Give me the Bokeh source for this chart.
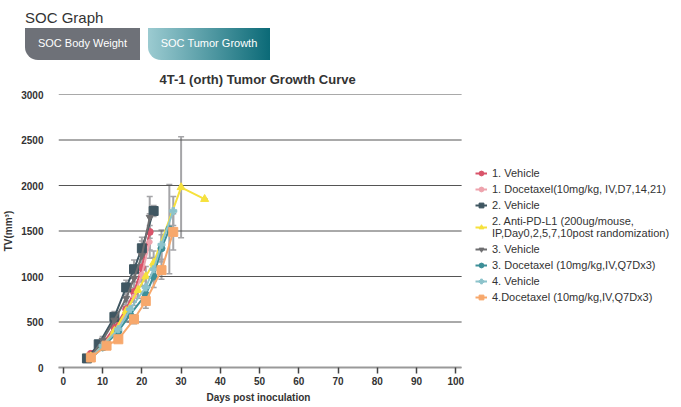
from bokeh.plotting import figure
from bokeh.models import (Range1d, Legend, LegendItem, Whisker, TeeHead, ColumnDataSource,
                          Div, FixedTicker, Title)
from bokeh.layouts import column
from bokeh.embed import file_html
from bokeh.resources import INLINE

FONT = "Liberation Sans"

# ---- data ----
labels = [
    "1. Vehicle",
    "1. Docetaxel(10mg/kg, IV,D7,14,21)",
    "2. Vehicle",
    "2. Anti-PD-L1 (200ug/mouse,\nIP,Day0,2,5,7,10post randomization)",
    "3. Vehicle",
    "3. Docetaxel (10mg/kg,IV,Q7Dx3)",
    "4. Vehicle",
    "4.Docetaxel (10mg/kg,IV,Q7Dx3)",
]

days_v1 = [7, 10, 13, 16, 18, 20, 22]
tv_v1 = [150, 260, 440, 640, 830, 1100, 1490]
err_v1 = [20, 40, 60, 90, 110, 150, 200]

days_d1 = [7, 10, 13, 16, 18, 20, 22]
tv_d1 = [130, 240, 400, 590, 780, 1020, 1380]
err_d1 = [15, 30, 50, 80, 100, 130, 180]

days_v2 = [6, 9, 13, 16, 18, 20, 23]
tv_v2 = [100, 255, 556, 880, 1080, 1310, 1720]
err_v2 = [10, 30, 60, 80, 100, 120, 60]

days_a2 = [7, 10, 13, 16, 19, 21, 23, 30, 36]
tv_a2 = [120, 230, 400, 620, 850, 1000, 1150, 1980, 1850]
err_a2 = [15, 30, 50, 70, 90, 110, 130, 555, 0]

days_v3 = [7, 10, 13, 16, 18, 20, 22]
tv_v3 = [120, 300, 520, 760, 980, 1230, 1650]
err_v3 = [15, 40, 70, 100, 120, 160, 230]

days_d3 = [7, 10, 14, 17, 21, 23, 25, 27]
tv_d3 = [100, 220, 400, 580, 800, 1000, 1310, 1520]
err_d3 = [15, 30, 50, 80, 100, 120, 150, 490]

days_v4 = [7, 10, 14, 17, 21, 23, 25, 28]
tv_v4 = [110, 240, 420, 640, 880, 1080, 1350, 1720]
err_v4 = [15, 30, 50, 80, 100, 130, 160, 160]

days_d4 = [7, 11, 14, 18, 21, 25, 28]
tv_d4 = [110, 240, 310, 530, 730, 1070, 1490]
err_d4 = [15, 25, 30, 50, 80, 100, 200]

x_ticks = [0, 10, 20, 30, 40, 50, 60, 70, 80, 90, 100]
y_ticks = [0, 500, 1000, 1500, 2000, 2500, 3000]

series = [
    (days_v1, tv_v1, err_v1, "#d9546a", "circle", 7),
    (days_d1, tv_d1, err_d1, "#eea3ad", "circle", 5),
    (days_v2, tv_v2, err_v2, "#3f5661", "square", 9),
    (days_a2, tv_a2, err_a2, "#f6e13d", "triangle", 8),
    (days_v3, tv_v3, err_v3, "#6e6e70", "inverted_triangle", 7),
    (days_d3, tv_d3, err_d3, "#3d8f98", "circle", 7),
    (days_v4, tv_v4, err_v4, "#8cc3cb", "plus", 7),
    (days_d4, tv_d4, err_d4, "#f7a86c", "square", 9),
]

X_LO, X_HI = -1.25, 101.5   # extent of the drawn axis and grid lines

# ---- header ----
header = Div(width=672, height=50, text=f"""
<div style="position:relative;width:665px;height:50px;font-family:'{FONT}',Arial,sans-serif;">
  <div style="position:absolute;left:20px;top:2px;font-size:15px;color:#333;">SOC Graph</div>
  <div style="position:absolute;left:20px;top:23px;width:115px;height:32px;background:#6e7178;
       color:#fff;font-size:11px;border-radius:0 0 0 13px;display:flex;align-items:center;
       justify-content:center;">SOC Body Weight</div>
  <div style="position:absolute;left:143px;top:23px;width:122px;height:32px;
       background:linear-gradient(to right,#9ccbd1,#0b6a77);border-radius:0 0 0 13px;
       color:#fff;font-size:11px;display:flex;align-items:center;justify-content:center;">SOC Tumor Growth</div>
</div>""")

# ---- figure ----
p = figure(width=672, height=345, output_backend="svg", toolbar_location=None,
           x_range=Range1d(X_LO, 155.25), y_range=Range1d(0, 3000),
           min_border_left=49, min_border_right=0, min_border_top=34, min_border_bottom=0,
           title="4T-1 (orth) Tumor Growth Curve")
p.outline_line_color = None
p.title.align = "left"
p.title.offset = 101
p.title.text_font = FONT
p.title.text_font_size = "13px"
p.title.text_font_style = "bold"
p.title.text_color = "#333333"
p.title.standoff = 15

p.xgrid.grid_line_color = None
p.ygrid.grid_line_color = None
p.segment(x0=[X_LO] * len(y_ticks), y0=y_ticks, x1=[X_HI] * len(y_ticks), y1=y_ticks,
          line_color="#555555", line_width=1)

p.xaxis.ticker = FixedTicker(ticks=x_ticks)
p.xaxis.bounds = (X_LO, X_HI)
p.xaxis.axis_line_color = "#999999"
p.xaxis.axis_line_width = 2
p.xaxis.major_tick_line_color = "#444444"
p.xaxis.major_tick_line_width = 1.5
p.xaxis.major_tick_out = 6
p.xaxis.major_tick_in = 0
p.xaxis.minor_tick_line_color = None
p.xaxis.major_label_text_font = FONT
p.xaxis.major_label_text_font_size = "10px"
p.xaxis.major_label_text_font_style = "bold"
p.xaxis.major_label_text_color = "#333333"
p.xaxis.major_label_standoff = 3

xlabel = Title(text="Days post inoculation", align="left", offset=148, standoff=5,
               text_font=FONT, text_font_size="10px", text_font_style="bold",
               text_color="#333333")
p.add_layout(xlabel, "below")

p.yaxis.ticker = FixedTicker(ticks=y_ticks)
p.yaxis.axis_line_color = None
p.yaxis.major_tick_line_color = None
p.yaxis.minor_tick_line_color = None
p.yaxis.major_label_text_font = FONT
p.yaxis.major_label_text_font_size = "10px"
p.yaxis.major_label_text_font_style = "bold"
p.yaxis.major_label_text_color = "#333333"
p.yaxis.major_label_standoff = 9
p.yaxis.axis_label = "TV(mm³)"
p.yaxis.axis_label_text_font = FONT
p.yaxis.axis_label_text_font_size = "10px"
p.yaxis.axis_label_text_font_style = "bold"
p.yaxis.axis_label_text_color = "#333333"
p.yaxis.axis_label_standoff = 4

items = []
for (d, v, e, color, marker, size), label in zip(series, labels):
    src = ColumnDataSource(dict(x=d, y=v,
                                lo=[a - b for a, b in zip(v, e)],
                                hi=[a + b for a, b in zip(v, e)]))
    w = Whisker(source=src, base="x", upper="hi", lower="lo", line_color="#a5a5a8", line_width=2,
                upper_head=TeeHead(size=6, line_color="#a5a5a8", line_width=1.5),
                lower_head=TeeHead(size=6, line_color="#a5a5a8", line_width=1.5))
    p.add_layout(w)
    r1 = p.line("x", "y", source=src, line_color=color, line_width=2)
    r2 = p.scatter("x", "y", source=src, marker=marker, size=size,
                   fill_color=color, line_color=color)
    items.append(LegendItem(label=label, renderers=[r1, r2]))

legend = Legend(items=items, location=(417, 64), margin=0, padding=6,
                background_fill_alpha=0, border_line_color=None,
                label_text_font=FONT, label_text_font_size="11px", label_text_color="#333333",
                glyph_width=12, glyph_height=12, label_height=12, label_standoff=5, spacing=4)
p.add_layout(legend)

layout = column(header, p, spacing=0)
open("out.html", "w").write(file_html(layout, INLINE))
